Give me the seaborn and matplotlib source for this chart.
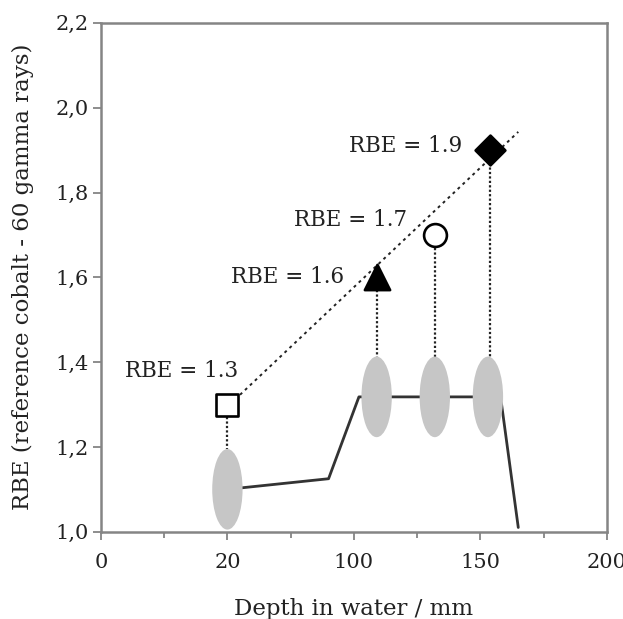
import matplotlib
matplotlib.use("Agg")
import matplotlib.pyplot as plt
from matplotlib.patches import Ellipse
import seaborn as sns
import pandas as pd

# Measured RBE values at four depths
rbe_depth = [50, 109, 132, 154]
rbe_value = [1.3, 1.6, 1.7, 1.9]
rbe_markers = ["s", "^", "o", "D"]
rbe_filled = [False, True, False, True]
rbe_labels = ["RBE = 1.3", "RBE = 1.6", "RBE = 1.7", "RBE = 1.9"]

# Depth-dose profile (relative, drawn on the RBE scale)
profile_depth = [50, 90, 102, 158, 165]
profile_value = [1.10, 1.125, 1.318, 1.318, 1.01]

# Trend line through the RBE points
trend_depth = [55, 165]
trend_value = [1.323, 1.943]

# Sample positions (ellipses) along the profile
sample_depth = [50, 109, 132, 153]
sample_value = [1.10, 1.318, 1.318, 1.318]

x_ticks = [0, 50, 100, 150, 200]
x_tick_labels = ["0", "20", "100", "150", "200"]
y_ticks = [1.0, 1.2, 1.4, 1.6, 1.8, 2.0, 2.2]
y_tick_labels = ["1,0", "1,2", "1,4", "1,6", "1,8", "2,0", "2,2"]

sns.set_theme(style="ticks")
plt.rcParams["font.family"] = ["DejaVu Serif"]

ink = "#222222"
spine_col = "#858585"

fig = plt.figure(figsize=(6.23, 6.19), dpi=100)
ax = fig.add_axes([0.162, 0.141, 0.812, 0.822])

# dose profile
sns.lineplot(x=profile_depth, y=profile_value, ax=ax, color="#333333",
             linewidth=2.0, sort=False, zorder=2)

# grey sample ellipses
for d, v in zip(sample_depth, sample_value):
    ax.add_patch(Ellipse((d, v), width=12, height=0.19, facecolor="#c6c6c6",
                         edgecolor="none", zorder=3))

# trend line
sns.lineplot(x=trend_depth, y=trend_value, ax=ax, color=ink, linewidth=1.4,
             linestyle=(0, (1.5, 2.0)), zorder=2)

# vertical dotted connectors from each marker to its sample ellipse
for d, v, sd, sv in zip(rbe_depth, rbe_value, sample_depth, sample_value):
    ax.plot([d, d], [v - 0.03, sv + 0.095], color=ink, linewidth=1.6,
            linestyle=(0, (1, 1)), zorder=2)

# RBE markers
sizes = {"s": 250, "^": 330, "o": 270, "D": 230}
df = pd.DataFrame({"depth": rbe_depth, "rbe": rbe_value})
for i, (m, f) in enumerate(zip(rbe_markers, rbe_filled)):
    sns.scatterplot(data=df.iloc[[i]], x="depth", y="rbe", ax=ax, marker=m,
                    s=sizes[m], facecolor="black" if f else "white",
                    edgecolor="black", linewidth=1.9, zorder=5)

# value labels
label_offsets = [(-18, 0.08), (-13, 0.0), (-11, 0.035), (-11, 0.01)]
label_ha = ["center", "right", "right", "right"]
for d, v, lab, (dx, dy), ha in zip(rbe_depth, rbe_value, rbe_labels,
                                   label_offsets, label_ha):
    ax.text(d + dx, v + dy, lab, ha=ha, va="center", fontsize=15.5, color=ink)

ax.set_xlim(0, 200)
ax.set_ylim(1.0, 2.2)
ax.set_xticks(x_ticks)
ax.set_xticklabels(x_tick_labels)
ax.set_xticks([25, 75, 125, 175], minor=True)
ax.set_yticks(y_ticks)
ax.set_yticklabels(y_tick_labels)

ax.tick_params(axis="both", which="major", direction="out", length=6,
               width=1.3, color=spine_col, labelsize=15, labelcolor=ink)
ax.tick_params(axis="x", which="major", pad=9)
ax.tick_params(axis="y", which="major", pad=3)
ax.tick_params(axis="x", which="minor", direction="out", length=4,
               width=1.3, color=spine_col)

for s in ax.spines.values():
    s.set_color(spine_col)
    s.set_linewidth(1.8)

ax.set_xlabel("Depth in water / mm", fontsize=16.5, color=ink, labelpad=19)
ax.set_ylabel("RBE (reference cobalt - 60 gamma rays)", fontsize=16.5,
              color=ink, labelpad=15)

fig.savefig("out.png", dpi=100)
